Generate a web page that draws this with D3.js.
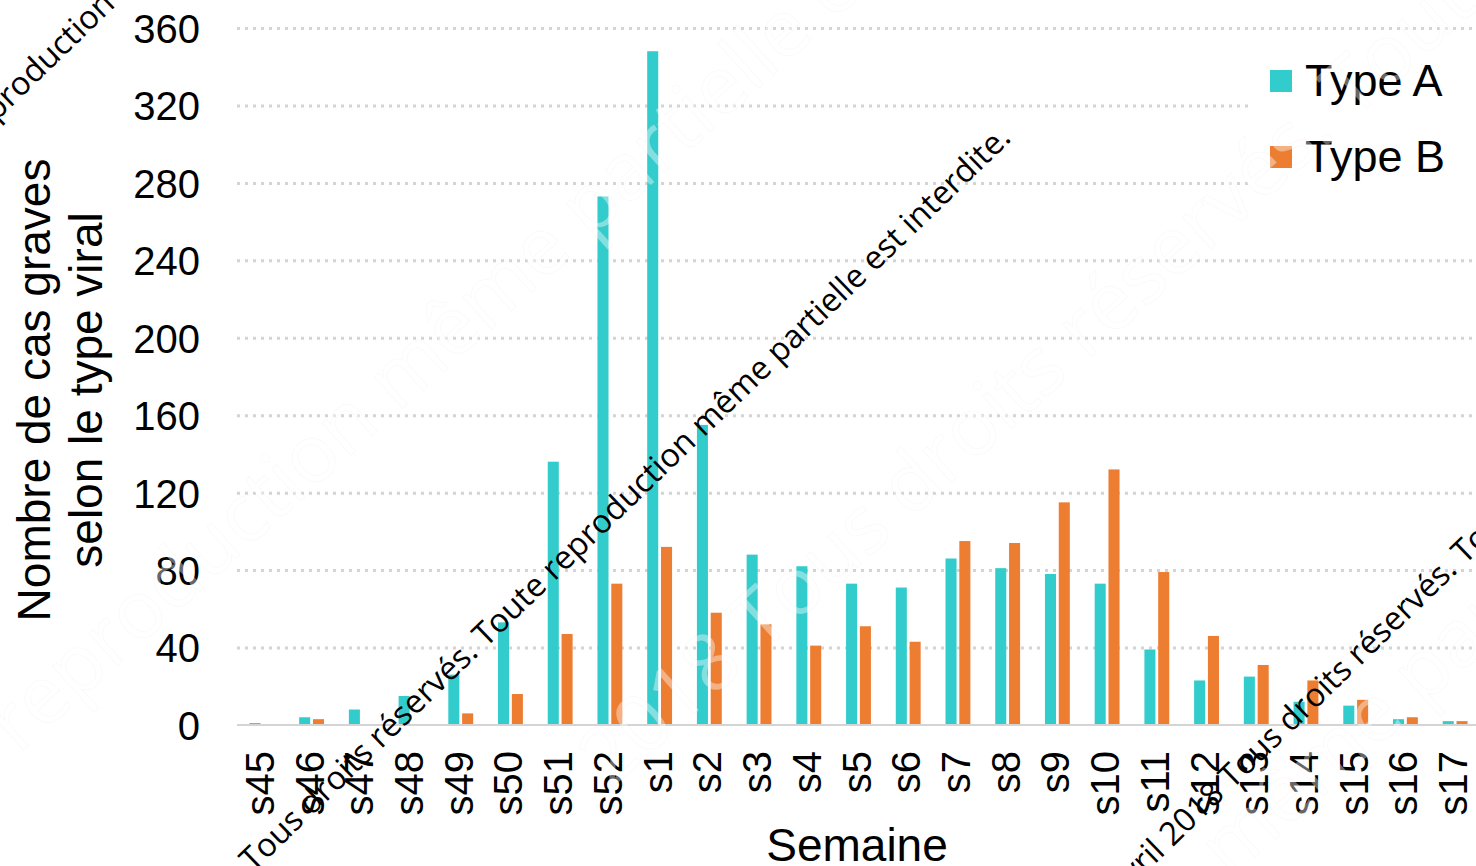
<!DOCTYPE html>
<html><head><meta charset="utf-8">
<script src="https://cdn.jsdelivr.net/npm/d3@7"></script>
<style>html,body{margin:0;padding:0;background:#fff;overflow:hidden}</style>
</head><body>
<svg id="chart" width="1476" height="866"></svg>
<script>
// ---- data ----
const categories = ["s45","s46","s47","s48","s49","s50","s51","s52","s1","s2","s3","s4","s5","s6","s7","s8","s9","s10","s11","s12","s13","s14","s15","s16","s17"];
const typeA = [1,4,8,15,26,53,136,273,348,155,88,82,73,71,86,81,78,73,39,23,25,12,10,3,2];
const typeB = [0,3,0,0,6,16,47,73,92,58,52,41,51,43,95,94,115,132,79,46,31,23,13,4,2];
const yTicks = [0,40,80,120,160,200,240,280,320,360];
const seriesNames = ["Type A","Type B"];
const seriesColors = ["#33CCCC","#ED7D31"];
const yTitle = ["Nombre de cas graves","selon le type viral"];
const xTitle = "Semaine";
const wmText = "Tous droits réservés. Toute reproduction même partielle est interdite.";

// ---- layout ----
const W = 1476, H = 866;
const svg = d3.select("#chart");
const plotL = 237, plotR = 1480, plotT = 28, plotB = 725;
const FONT = "'Liberation Sans', Arial, sans-serif";

const x0 = d3.scaleBand().domain(categories).range([plotL, plotR]).paddingInner(0.5).paddingOuter(0.25);
const x1 = d3.scaleBand().domain(seriesNames).range([0, x0.bandwidth()]).paddingInner(0.2);
const y = d3.scaleLinear().domain([0, 360]).range([plotB, plotT]);
const color = d3.scaleOrdinal().domain(seriesNames).range(seriesColors);

// gridlines
const yAxisGrid = d3.axisLeft(y).tickValues(yTicks.filter(d => d > 0)).tickSize(-(W - plotL)).tickFormat("");
const gGrid = svg.append("g").attr("transform", `translate(${plotL},0)`).call(yAxisGrid);
gGrid.select(".domain").remove();
gGrid.selectAll("line").attr("stroke", "#d4d4d4").attr("stroke-width", 3).attr("stroke-dasharray", "3,5");

// bars
const rows = categories.map((c, i) => ({cat: c, vals: [typeA[i], typeB[i]]}));
const gBars = svg.append("g");
gBars.selectAll("g").data(rows).join("g")
  .attr("transform", d => `translate(${x0(d.cat)},0)`)
  .selectAll("rect").data(d => d.vals.map((v, k) => ({k: seriesNames[k], v})))
  .join("rect")
  .attr("x", d => x1(d.k))
  .attr("width", x1.bandwidth())
  .attr("y", d => y(d.v))
  .attr("height", d => y(0) - y(d.v))
  .attr("fill", d => color(d.k));

// x axis baseline + labels
const xAxis = d3.axisBottom(x0).tickSize(0).tickPadding(0);
const gX = svg.append("g").attr("transform", `translate(0,${plotB})`).call(xAxis);
gX.select(".domain").attr("stroke", "#d4d4d4").attr("stroke-width", 2).attr("d", `M${plotL},0H${W}`);
gX.selectAll("text")
  .attr("font-family", FONT).attr("font-size", 40).attr("fill", "#000")
  .attr("text-anchor", "end").attr("dy", null).attr("y", 0)
  .attr("transform", "translate(12,26) rotate(-90)");

// y axis labels
const yAxis = d3.axisLeft(y).tickValues(yTicks).tickSize(0).tickPadding(0);
const gY = svg.append("g").attr("transform", `translate(200,0)`).call(yAxis);
gY.select(".domain").remove();
gY.selectAll("text").attr("font-family", FONT).attr("font-size", 40).attr("fill", "#000").attr("dy", "0.36em");

// axis titles
yTitle.forEach((t, i) => {
  svg.append("text").attr("font-family", FONT).attr("font-size", 46).attr("fill", "#000")
    .attr("text-anchor", "middle")
    .attr("transform", `translate(${50 + i * 52},390) rotate(-90)`).text(t);
});
svg.append("text").attr("font-family", FONT).attr("font-size", 46).attr("fill", "#000")
  .attr("text-anchor", "middle").attr("x", 857).attr("y", 861).text(xTitle);

// legend
const gL = svg.append("g");
gL.append("rect").attr("x", 1250).attr("y", 45).attr("width", 222).attr("height", 145).attr("fill", "#fff");
seriesNames.forEach((s, i) => {
  const cy = 81 + i * 76;
  gL.append("rect").attr("x", 1270).attr("y", cy - 11).attr("width", 22).attr("height", 22).attr("fill", color(s));
  gL.append("text").attr("font-family", FONT).attr("font-size", 45).attr("fill", "#000")
    .attr("x", 1305).attr("y", cy + 15).text(s);
});

// ---- watermarks ----
function placeLine(g, full, key, P, angle, fs, family) {
  const t = g.append("text").attr("font-family", family).attr("font-size", fs).text(full);
  const idx = full.indexOf(key);
  const off = idx > 0 ? t.node().getSubStringLength(0, idx) : 0;
  const a = angle * Math.PI / 180;
  const sx = P[0] - off * Math.cos(a), sy = P[1] + off * Math.sin(a);
  t.attr("transform", `translate(${sx},${sy}) rotate(${-angle})`);
  return t;
}
const WMF = "'Open Sans', 'DejaVu Sans', sans-serif";
// faint white large watermark
const gW = svg.append("g").attr("fill", "#fff").attr("fill-opacity", 0.4)
  .attr("stroke", "#000").attr("stroke-opacity", 0.025).attr("stroke-width", 1);
placeLine(gW, wmText, "partielle", [590, 240], 42, 80, WMF);
placeLine(gW, "2018 " + wmText, "2018", [610, 790], 42, 80, WMF);
placeLine(gW, "2018 " + wmText, "même", [1230, 880], 42, 80, WMF);

// black diagonal watermark, size fitted
const gB = svg.append("g").attr("fill", "#000");
const probe = gB.append("text").attr("font-family", WMF).attr("font-size", 30).text(wmText);
const fs = 30 * 1056 / probe.node().getComputedTextLength();
probe.remove();
placeLine(gB, wmText, "Tous", [253, 873], 44, fs, WMF);
placeLine(gB, "avril 2018 " + wmText, "Tous", [1232, 790], 44, fs, WMF);
placeLine(gB, wmText, "production", [-4, 122], 44, fs, WMF);
</script>
</body></html>
